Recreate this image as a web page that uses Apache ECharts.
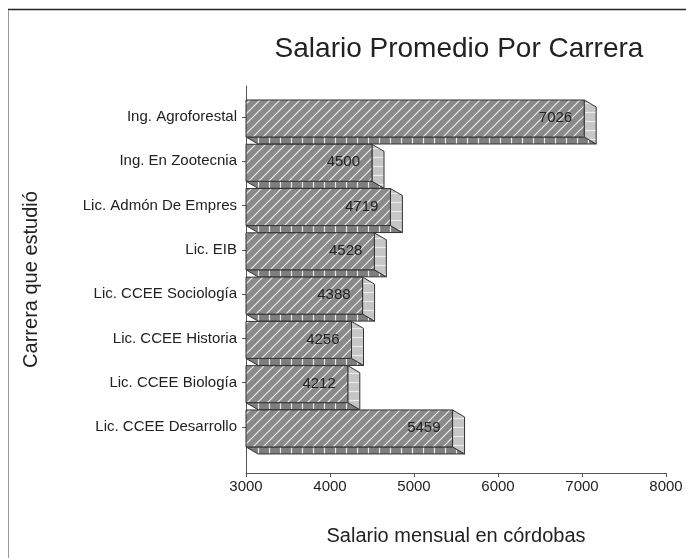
<!DOCTYPE html>
<html>
<head>
<meta charset="utf-8">
<script src="https://cdn.jsdelivr.net/npm/echarts@6/dist/echarts.min.js"></script>
<style>
  html, body { margin: 0; padding: 0; background: #fff; }
  #chart { width: 686px; height: 558px; }
</style>
</head>
<body>
<div id="chart"></div>
<script>
var carreras = [
  'Ing. Agroforestal',
  'Ing. En Zootecnia',
  'Lic. Admón De Empres',
  'Lic. EIB',
  'Lic. CCEE Sociología',
  'Lic. CCEE Historia',
  'Lic. CCEE Biología',
  'Lic. CCEE Desarrollo'
]
var salarios = [7026, 4500, 4719, 4528, 4388, 4256, 4212, 5459]
var xTicks = [3000, 4000, 5000, 6000, 7000, 8000]
var yTicks = [0, 1, 2, 3, 4, 5, 6, 7]

// little tiles for the hatch fills
function tile(w, h, bg, draw) {
  var c = document.createElement('canvas')
  c.width = w
  c.height = h
  var ctx = c.getContext('2d')
  ctx.fillStyle = bg
  ctx.fillRect(0, 0, w, h)
  ctx.strokeStyle = '#ececec'
  ctx.lineWidth = 1.2
  draw(ctx)
  return c
}
var frontTile = tile(10, 10, '#8a8a8a', function (ctx) {
  ctx.beginPath()
  ctx.moveTo(-1, 11); ctx.lineTo(11, -1)
  ctx.moveTo(-1, 1); ctx.lineTo(1, -1)
  ctx.moveTo(9, 11); ctx.lineTo(11, 9)
  ctx.stroke()
})
var sideTile = tile(10, 9, '#c6c6c6', function (ctx) {
  ctx.beginPath()
  ctx.moveTo(0, 4.5); ctx.lineTo(10, 4.5)
  ctx.stroke()
})
var bottomTile = tile(11, 10, '#7e7e7e', function (ctx) {
  ctx.beginPath()
  ctx.moveTo(5.5, 0); ctx.lineTo(5.5, 10)
  ctx.stroke()
})

var data = salarios.map(function (v, i) { return [v, i] })

var dx = 12, dy = 7

var chart = echarts.init(document.getElementById('chart'))
chart.setOption({
  animation: false,
  textStyle: { fontFamily: 'Liberation Sans' },
  title: {
    text: 'Salario Promedio Por Carrera',
    left: 454,
    textAlign: 'center',
    top: 30,
    textStyle: { fontSize: 28, fontWeight: 'normal', color: '#222', fontFamily: 'Liberation Sans' }
  },
  graphic: [
    { type: 'line', shape: { x1: 8, y1: 9.5, x2: 686, y2: 9.5 }, style: { stroke: '#222', lineWidth: 1.5 } },
    { type: 'line', shape: { x1: 8.5, y1: 10, x2: 8.5, y2: 558 }, style: { stroke: '#999', lineWidth: 1 } }
  ],
  grid: { left: 246, right: 20, top: 86, bottom: 85 },
  xAxis: {
    type: 'value',
    min: 3000,
    max: 8000,
    interval: 1000,
    name: 'Salario mensual en córdobas',
    nameLocation: 'middle',
    nameGap: 53,
    nameTextStyle: { fontSize: 20, color: '#222' },
    splitLine: { show: false },
    axisLine: { show: true, onZero: false, lineStyle: { color: '#555' } },
    axisTick: { show: true, length: 4, lineStyle: { color: '#555' }, customValues: xTicks },
    axisLabel: {
      fontSize: 15,
      color: '#222',
      margin: 6,
      customValues: xTicks,
      formatter: function (v) { return String(v) }
    }
  },
  yAxis: {
    type: 'value',
    inverse: true,
    min: -0.7,
    max: 8.04,
    name: 'Carrera que estudió',
    nameLocation: 'middle',
    nameGap: 205,
    nameRotate: 90,
    nameTextStyle: { fontSize: 20, color: '#222' },
    splitLine: { show: false },
    axisLine: { show: true, onZero: false, lineStyle: { color: '#555' } },
    axisTick: { show: true, length: 4, lineStyle: { color: '#555' }, customValues: yTicks },
    axisLabel: {
      fontSize: 15,
      color: '#222',
      margin: 9,
      customValues: yTicks,
      formatter: function (v) { return carreras[Math.round(v)] }
    }
  },
  series: [{
    type: 'custom',
    data: data,
    encode: { x: 0, y: 1 },
    renderItem: function (params, api) {
      var val = api.value(0)
      var idx = api.value(1)
      var start = api.coord([3000, idx])
      var end = api.coord([val, idx])
      var x0 = start[0], xe = end[0], c = end[1]
      var top = c - 17, bot = c + 20
      return {
        type: 'group',
        children: [
          {
            type: 'polygon',
            shape: { points: [[x0, bot], [xe, bot], [xe + dx, bot + dy], [x0 + dx, bot + dy]] },
            style: { fill: { image: bottomTile, repeat: 'repeat' }, stroke: '#333', lineWidth: 1 }
          },
          {
            type: 'polygon',
            shape: { points: [[xe, top], [xe + dx, top + dy], [xe + dx, bot + dy], [xe, bot]] },
            style: { fill: { image: sideTile, repeat: 'repeat' }, stroke: '#333', lineWidth: 1 }
          },
          {
            type: 'rect',
            shape: { x: x0, y: top, width: xe - x0, height: bot - top },
            style: { fill: { image: frontTile, repeat: 'repeat' }, stroke: '#333', lineWidth: 1 }
          },
          {
            type: 'text',
            x: xe - 12,
            y: c + 1,
            style: {
              text: String(val),
              fill: '#222',
              font: '15px "Liberation Sans"',
              align: 'right',
              verticalAlign: 'middle'
            }
          }
        ]
      }
    }
  }]
})
</script>
</body>
</html>
